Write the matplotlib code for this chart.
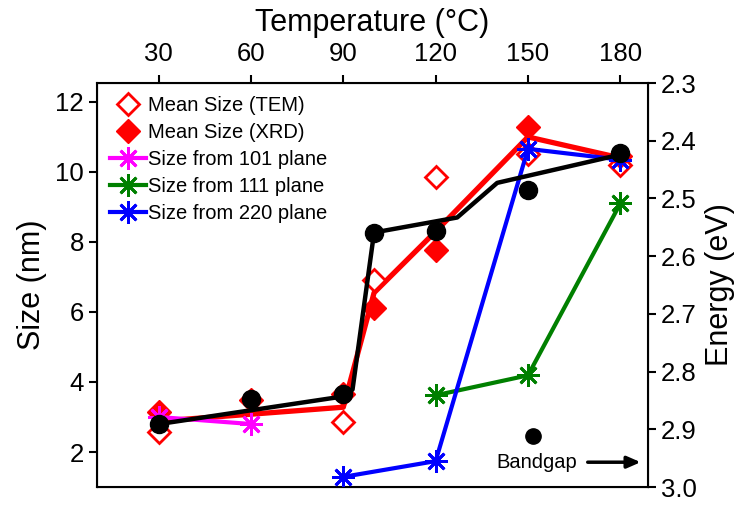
import matplotlib.pyplot as plt
from matplotlib.lines import Line2D

plt.rcParams['font.family'] = ['Liberation Sans', 'DejaVu Sans']

# Data
tem_temp = [30, 90, 100, 120, 150, 180]
tem_size = [2.57, 2.85, 6.9, 9.85, 10.5, 10.2]

xrd_temp = [30, 60, 90, 100, 120, 150, 180]
xrd_size = [3.15, 3.5, 3.65, 6.1, 7.77, 11.29, 10.45]

mean_temp = [30, 60, 90, 100, 120, 150, 180]
mean_size = [2.88, 3.08, 3.28, 6.55, 8.3, 11.0, 10.4]

p101_temp = [30, 60]
p101_size = [3.0, 2.8]

p111_temp = [120, 150, 180]
p111_size = [3.62, 4.19, 9.1]

p220_temp = [90, 120, 150, 180]
p220_size = [1.29, 1.74, 10.66, 10.35]

gap_temp = [30, 60, 90, 100, 120, 150, 180]
gap_energy = [2.891, 2.848, 2.839, 2.559, 2.557, 2.485, 2.421]

# smoothed bandgap trend line
gap_line_temp = [30, 90, 93, 100, 127, 140, 180]
gap_line_energy = [2.891, 2.843, 2.831, 2.559, 2.533, 2.473, 2.424]

temp_ticks = [30, 60, 90, 120, 150, 180]
size_ticks = [2, 4, 6, 8, 10, 12]
energy_ticks = [2.3, 2.4, 2.5, 2.6, 2.7, 2.8, 2.9, 3.0]

fig = plt.figure(figsize=(7.43, 5.05), dpi=100)
ax = fig.add_axes([0.1306, 0.0356, 0.7416, 0.8000])

star = (8, 2, 0)
ax.plot(mean_temp, mean_size, color='red', lw=3.8, zorder=2)
ax.plot(tem_temp, tem_size, ls='none', marker='D', ms=11, mfc='white',
        mec='red', mew=2, zorder=3)
ax.plot(xrd_temp, xrd_size, ls='none', marker='D', ms=12, color='red', zorder=3)
ax.plot(p101_temp, p101_size, color='#ff00ff', lw=3, marker=star, ms=16, mew=2, zorder=4)
ax.plot(p111_temp, p111_size, color='#008000', lw=3, marker=star, ms=16, mew=2, zorder=4)
ax.plot(p220_temp, p220_size, color='#0000ff', lw=3, marker=star, ms=16, mew=2, zorder=4)

ax.set_xlim(10, 189)
ax.set_ylim(1.0, 12.54)
ax.xaxis.tick_top()
ax.xaxis.set_label_position('top')
ax.set_xticks(temp_ticks)
ax.set_yticks(size_ticks)
ax.tick_params(axis='both', direction='out', length=6, width=1.5, labelsize=18.5)
ax.tick_params(axis='x', pad=6)
ax.set_xlabel('Temperature (°C)', fontsize=22, labelpad=8)
ax.set_ylabel('Size (nm)', fontsize=22, labelpad=6)
for s in ax.spines.values():
    s.set_linewidth(1.5)

ax2 = ax.twinx()
ax2.plot(gap_line_temp, gap_line_energy, color='black', lw=3.2, zorder=2)
ax2.plot(gap_temp, gap_energy, ls='none', marker='o', ms=13, color='black', zorder=3)
ax2.set_ylim(3.0, 2.3)
ax2.set_yticks(energy_ticks)
ax2.set_yticklabels([f'{v:.1f}' for v in energy_ticks])
ax2.tick_params(axis='y', direction='out', length=6, width=1.5, labelsize=18.5)
ax2.set_ylabel('Energy (eV)', fontsize=22, labelpad=6)

# Bandgap key in the lower right corner
ax2.plot([151.7], [2.912], ls='none', marker='o', ms=11, color='black')
ax2.text(153, 2.957, 'Bandgap', fontsize=14.5, ha='center', va='center')
ax2.annotate('', xy=(187.5, 2.957), xytext=(168.5, 2.957),
             arrowprops=dict(arrowstyle='-|>,head_length=0.8,head_width=0.35',
                             color='black', lw=2.5))

handles = [
    Line2D([], [], ls='none', marker='D', ms=11, mfc='white', mec='red', mew=2),
    Line2D([], [], ls='none', marker='D', ms=12, color='red'),
    Line2D([], [], color='#ff00ff', lw=3, marker=star, ms=16, mew=2),
    Line2D([], [], color='#008000', lw=3, marker=star, ms=16, mew=2),
    Line2D([], [], color='#0000ff', lw=3, marker=star, ms=16, mew=2),
]
labels = ['Mean Size (TEM)', 'Mean Size (XRD)', 'Size from 101 plane',
          'Size from 111 plane', 'Size from 220 plane']
ax2.legend(handles, labels, loc='upper left', bbox_to_anchor=(0.0, 1.0),
           frameon=False, fontsize=14.5, handlelength=1.8, handletextpad=0.1,
           labelspacing=0.4, borderaxespad=0.25)

fig.savefig('out.png', dpi=100)
